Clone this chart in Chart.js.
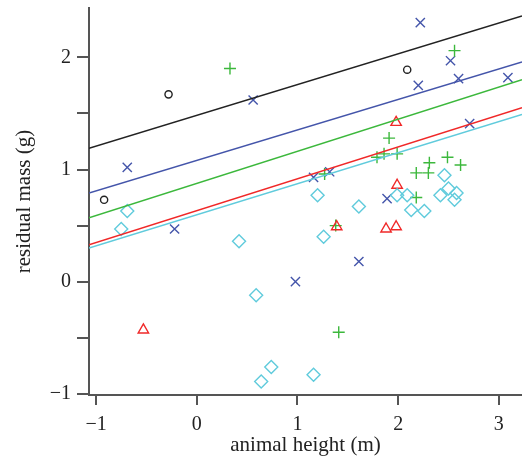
<!DOCTYPE html>
<html>
<head>
<meta charset="utf-8">
<script src="https://cdn.jsdelivr.net/npm/chart.js@4/dist/chart.umd.min.js"></script>
<style>
  html, body { margin: 0; padding: 0; background: #fff; overflow: hidden; }
  canvas { display: block; }
</style>
</head>
<body>
<canvas id="c" width="522" height="461"></canvas>
<script>
// ---- data ----
const xRange = [-1.07, 3.23];
const yRange = [-1.01, 2.44];
const xTicks = [-1, 0, 1, 2, 3];
const yTicks = [-1, 0, 1, 2];

const blackX = [-0.92, -0.28, 2.09];
const blackY = [0.73, 1.67, 1.89];

const blueX = [0.56, 2.22, 2.52, 2.20, 2.60, 3.09, 2.71, -0.69, -0.22, 1.16, 1.32, 1.61, 1.89, 0.98];
const blueY = [1.62, 2.31, 1.97, 1.75, 1.81, 1.82, 1.41, 1.02, 0.47, 0.93, 0.98, 0.18, 0.74, 0.00];

const greenX = [0.33, 2.56, 1.91, 1.79, 1.86, 1.99, 2.31, 2.49, 2.62, 2.18, 2.30, 2.18, 1.27, 1.38, 1.41];
const greenY = [1.90, 2.06, 1.28, 1.11, 1.14, 1.14, 1.06, 1.11, 1.04, 0.97, 0.97, 0.75, 0.96, 0.50, -0.45];

const redX = [1.98, 1.39, 1.99, 1.88, 1.98, -0.53];
const redY = [1.42, 0.49, 0.86, 0.47, 0.49, -0.43];

const cyanX = [-0.69, -0.75, 1.20, 1.61, 1.26, 0.42, 2.46, 1.99, 2.09, 2.42, 2.50, 2.58, 2.56, 2.13, 2.26, 0.59, 0.74, 0.64, 1.16];
const cyanY = [0.63, 0.47, 0.77, 0.67, 0.40, 0.36, 0.95, 0.77, 0.77, 0.77, 0.83, 0.79, 0.73, 0.64, 0.63, -0.12, -0.76, -0.89, -0.83];

// regression line values at the left and right ends of the x range
const fitBlack = [1.19, 2.37];
const fitBlue  = [0.79, 1.96];
const fitGreen = [0.57, 1.80];
const fitRed   = [0.33, 1.55];
const fitCyan  = [0.30, 1.49];

// ---- build ----
const pts = (xs, ys) => xs.map((x, i) => ({ x, y: ys[i] }));
const fit = (v) => [{ x: xRange[0], y: v[0] }, { x: xRange[1], y: v[1] }];

const C = {
  black: '#222222',
  blue: '#4455aa',
  green: '#3cb83c',
  red: '#f02828',
  cyan: '#60cbdc'
};

const scatter = (data, color, style, r) => ({
  type: 'scatter', data, pointStyle: style, pointRadius: r, pointHoverRadius: r,
  borderColor: color, backgroundColor: 'rgba(0,0,0,0)', pointBorderWidth: 1.4, borderWidth: 1.4
});
const line = (data, color) => ({
  type: 'line', data, borderColor: color, borderWidth: 1.5, pointRadius: 0, fill: false, tension: 0
});

const serif = "'Liberation Serif', 'Times New Roman', serif";
const zeroPad = (s) => { s.paddingLeft = 0; s.paddingRight = 0; s.paddingTop = 0; s.paddingBottom = 0; };

new Chart(document.getElementById('c'), {
  type: 'scatter',
  data: {
    datasets: [
      line(fit(fitCyan), C.cyan),
      line(fit(fitRed), C.red),
      line(fit(fitGreen), C.green),
      line(fit(fitBlue), C.blue),
      line(fit(fitBlack), C.black),
      scatter(pts(cyanX, cyanY), C.cyan, 'rectRot', 6.5),
      scatter(pts(redX, redY), C.red, 'triangle', 6),
      scatter(pts(greenX, greenY), C.green, 'cross', 6),
      scatter(pts(blueX, blueY), C.blue, 'crossRot', 6.5),
      scatter(pts(blackX, blackY), C.black, 'circle', 3.6)
    ]
  },
  options: {
    responsive: false,
    animation: false,
    layout: { autoPadding: false, padding: { top: 8, right: 0, left: 0, bottom: 0 } },
    plugins: { legend: { display: false }, tooltip: { enabled: false } },
    scales: {
      x: {
        type: 'linear',
        min: xRange[0], max: xRange[1],
        afterFit: (s) => { s.height = 66; zeroPad(s); },
        afterBuildTicks: (s) => { s.ticks = xTicks.map(v => ({ value: v })); },
        ticks: {
          includeBounds: false,
          color: '#222',
          font: { family: serif, size: 20 },
          padding: 8,
          maxRotation: 0,
          callback: (v) => (v < 0 ? '\u2212' + Math.abs(v) : String(v))
        },
        grid: { drawOnChartArea: false, drawTicks: true, tickLength: 10, color: '#555', lineWidth: 2 },
        border: { display: true, color: '#555', width: 2 },
        title: { display: true, text: 'animal height (m)', color: '#222', font: { family: serif, size: 21 }, padding: { top: 0, bottom: 3 } }
      },
      y: {
        type: 'linear',
        min: yRange[0], max: yRange[1],
        afterFit: (s) => { s.width = 89; zeroPad(s); },
        afterBuildTicks: (s) => {
          const t = [];
          for (let v = yTicks[0]; v <= yTicks[yTicks.length - 1] + 0.5; v += 0.5) t.push({ value: v });
          s.ticks = t.filter(o => o.value <= yRange[1]);
        },
        ticks: {
          includeBounds: false,
          color: '#222',
          font: { family: serif, size: 20 },
          padding: 6,
          callback: (v) => (Number.isInteger(v) ? (v < 0 ? '\u2212' + Math.abs(v) : String(v)) : '')
        },
        grid: { drawOnChartArea: false, drawTicks: true, tickLength: 12, color: '#555', lineWidth: 2 },
        border: { display: true, color: '#555', width: 2 },
        title: { display: true, text: 'residual mass (g)', color: '#222', font: { family: serif, size: 21 }, padding: { top: 12, bottom: 0 } }
      }
    }
  }
});
</script>
</body>
</html>
